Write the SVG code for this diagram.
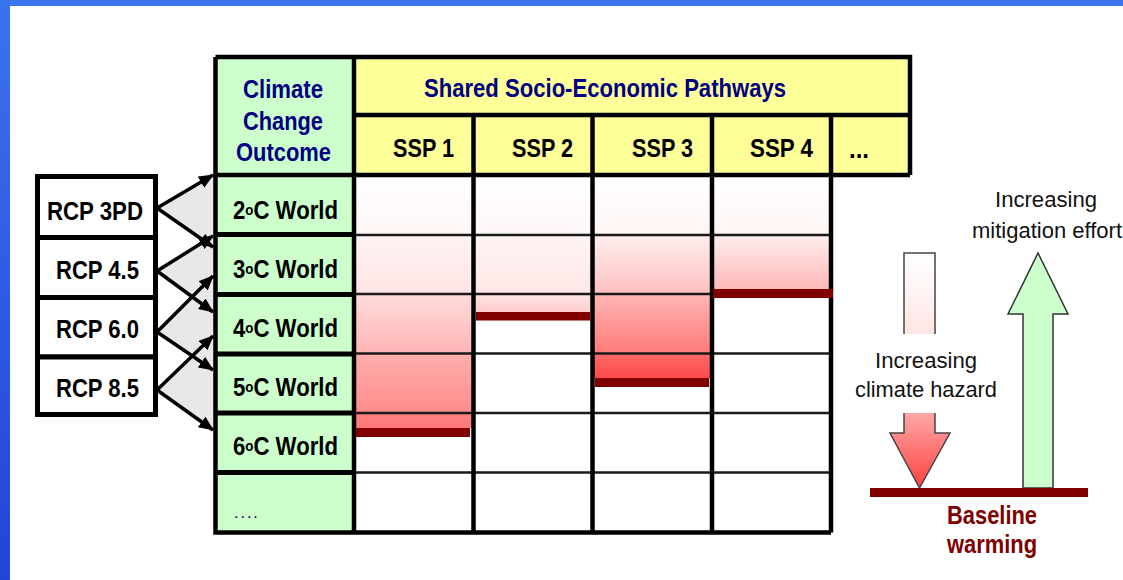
<svg xmlns="http://www.w3.org/2000/svg" width="1123" height="580" viewBox="0 0 1123 580">
<style>
.b{font-family:"Liberation Sans",Arial,sans-serif;font-weight:bold;font-size:25px;fill:#000}
.nv{fill:#000080}
.r{font-family:"Liberation Sans",Arial,sans-serif;font-size:22px;fill:#111}
.mr{fill:#800000}
.thick{stroke:#000;stroke-width:4.5;fill:none}
.thin{stroke:#1a1a1a;stroke-width:2.5;fill:none}
.box{fill:#fff;stroke:#000;stroke-width:5}
.fan{fill:#e8e8e8;stroke:#d4d4d4;stroke-width:0.6}
.arr{stroke:#000;stroke-width:3.5;fill:none;marker-end:url(#ah)}
.bar{fill:#800000}
</style>
<defs>
<marker id="ah" markerUnits="userSpaceOnUse" markerWidth="15" markerHeight="13" refX="14" refY="6.5" orient="auto">
<path d="M0,0 L15,6.5 L0,13 Z" fill="#000"/>
</marker>
<linearGradient id="blue" x1="0" y1="0" x2="0" y2="1">
<stop offset="0" stop-color="#3b72ee"/>
<stop offset="1" stop-color="#2145d6"/>
</linearGradient>
<linearGradient id="g1" gradientUnits="userSpaceOnUse" x1="0" y1="175" x2="0" y2="533">
<stop offset="0" stop-color="#ffffff"/>
<stop offset="0.1676" stop-color="#fff5f5"/>
<stop offset="0.1677" stop-color="#fff3f3"/>
<stop offset="0.3324" stop-color="#ffe4e4"/>
<stop offset="0.3325" stop-color="#ffdcdc"/>
<stop offset="0.4972" stop-color="#ffb4b4"/>
<stop offset="0.4973" stop-color="#ffaeae"/>
<stop offset="0.6648" stop-color="#ff8c8c"/>
<stop offset="0.6649" stop-color="#ff8080"/>
<stop offset="0.7067" stop-color="#ff7878"/>
</linearGradient>
<linearGradient id="g2" gradientUnits="userSpaceOnUse" x1="0" y1="175" x2="0" y2="533">
<stop offset="0" stop-color="#ffffff"/>
<stop offset="0.1676" stop-color="#fff6f6"/>
<stop offset="0.1677" stop-color="#fff4f4"/>
<stop offset="0.3324" stop-color="#ffe6e6"/>
<stop offset="0.3325" stop-color="#ffe4e4"/>
<stop offset="0.3827" stop-color="#ffcccc"/>
</linearGradient>
<linearGradient id="g3" gradientUnits="userSpaceOnUse" x1="0" y1="175" x2="0" y2="533">
<stop offset="0" stop-color="#ffffff"/>
<stop offset="0.1676" stop-color="#fff4f4"/>
<stop offset="0.1677" stop-color="#ffeeee"/>
<stop offset="0.3324" stop-color="#ffc0c0"/>
<stop offset="0.3325" stop-color="#ffb6b6"/>
<stop offset="0.4972" stop-color="#ff7a7a"/>
<stop offset="0.4973" stop-color="#ff6a6a"/>
<stop offset="0.567" stop-color="#ff4a4a"/>
</linearGradient>
<linearGradient id="g4" gradientUnits="userSpaceOnUse" x1="0" y1="175" x2="0" y2="533">
<stop offset="0" stop-color="#ffffff"/>
<stop offset="0.1676" stop-color="#fff4f4"/>
<stop offset="0.1677" stop-color="#ffeeee"/>
<stop offset="0.3184" stop-color="#ffb8b8"/>
</linearGradient>
<linearGradient id="hz" gradientUnits="userSpaceOnUse" x1="0" y1="253" x2="0" y2="488">
<stop offset="0" stop-color="#ffffff"/>
<stop offset="0.34" stop-color="#ffe6e6"/>
<stop offset="0.68" stop-color="#ffa8a8"/>
<stop offset="1" stop-color="#ff4040"/>
</linearGradient>
</defs>

<rect x="0" y="0" width="1123" height="580" fill="#fff"/>
<g id="frame">
<rect x="0" y="0" width="10" height="580" fill="url(#blue)"/>
<rect x="0" y="0" width="1123" height="6" fill="#3a74ee"/>
</g>

<g id="connectors">
<polygon class="fan" points="157,208 214,175 214,247"/>
<polygon class="fan" points="157,271 214,236 214,312"/>
<polygon class="fan" points="157,332 214,276 214,370"/>
<polygon class="fan" points="157,390 214,336 214,430"/>
<line class="arr" x1="157" y1="208" x2="213" y2="175"/>
<line class="arr" x1="157" y1="208" x2="213" y2="247"/>
<line class="arr" x1="157" y1="271" x2="213" y2="236"/>
<line class="arr" x1="157" y1="271" x2="213" y2="312"/>
<line class="arr" x1="157" y1="332" x2="213" y2="276"/>
<line class="arr" x1="157" y1="332" x2="213" y2="370"/>
<line class="arr" x1="157" y1="390" x2="213" y2="336"/>
<line class="arr" x1="157" y1="390" x2="213" y2="430"/>
</g>

<g id="rcp-3pd"><rect class="box" x="37.5" y="176.5" width="118" height="61"/><text class="b" x="47" y="220" textLength="96" lengthAdjust="spacingAndGlyphs">RCP 3PD</text></g>
<g id="rcp-4-5"><rect class="box" x="37.5" y="237.5" width="118" height="60"/><text class="b" x="56" y="279" textLength="83" lengthAdjust="spacingAndGlyphs">RCP 4.5</text></g>
<g id="rcp-6-0"><rect class="box" x="37.5" y="297.5" width="118" height="59.5"/><text class="b" x="56" y="338" textLength="83" lengthAdjust="spacingAndGlyphs">RCP 6.0</text></g>
<g id="rcp-8-5"><rect class="box" x="37.5" y="357" width="118" height="57.5"/><text class="b" x="56" y="397" textLength="83" lengthAdjust="spacingAndGlyphs">RCP 8.5</text></g>

<g id="table">
<rect x="215" y="57" width="139" height="476" fill="#ccffcc"/>
<rect x="354" y="57" width="556" height="118" fill="#ffff99"/>
<rect x="354" y="175" width="477" height="358" fill="#fff"/>
<g id="cells">
<rect x="354" y="175" width="119.5" height="253" fill="url(#g1)"/>
<rect x="473.5" y="175" width="119" height="137" fill="url(#g2)"/>
<rect x="592.5" y="175" width="119.5" height="203" fill="url(#g3)"/>
<rect x="712" y="175" width="119" height="114" fill="url(#g4)"/>
</g>
<g id="grid">
<path class="thin" d="M354,235 H831 M354,294 H831 M354,353.5 H831 M354,413 H831 M354,472.5 H831"/>
<path class="thick" d="M215.5,57 H910 V175 M215.5,57 V532.5 H831 M354,57 V532.5 M354,115 H910 M215.5,175 H910 M473.5,115 V532.5 M592.5,115 V532.5 M712,115 V532.5 M831,115 V532.5"/>
<path d="M215.5,234.5 H354 M215.5,294.5 H354 M215.5,354 H354 M215.5,413 H354 M215.5,472.5 H354" stroke="#000" stroke-width="5" fill="none"/>
</g>
<g id="bars">
<rect class="bar" x="356" y="428" width="114" height="9"/>
<rect class="bar" x="476" y="312" width="114" height="8.5"/>
<rect class="bar" x="595" y="378" width="114" height="9"/>
<rect class="bar" x="713" y="289" width="120" height="9"/>
</g>
</g>

<g id="header-cco">
<text class="b nv" x="243" y="98" textLength="80" lengthAdjust="spacingAndGlyphs">Climate</text>
<text class="b nv" x="243" y="130" textLength="80" lengthAdjust="spacingAndGlyphs">Change</text>
<text class="b nv" x="236" y="161" textLength="95" lengthAdjust="spacingAndGlyphs">Outcome</text>
</g>
<g id="header-ssp">
<text class="b nv" x="424" y="97" textLength="362" lengthAdjust="spacingAndGlyphs">Shared Socio-Economic Pathways</text>
</g>
<g id="ssp1"><text class="b" x="393" y="157" textLength="61" lengthAdjust="spacingAndGlyphs">SSP 1</text></g>
<g id="ssp2"><text class="b" x="512" y="157" textLength="61" lengthAdjust="spacingAndGlyphs">SSP 2</text></g>
<g id="ssp3"><text class="b" x="632" y="157" textLength="61" lengthAdjust="spacingAndGlyphs">SSP 3</text></g>
<g id="ssp4"><text class="b" x="750" y="157" textLength="63" lengthAdjust="spacingAndGlyphs">SSP 4</text></g>
<g id="ssp-more"><text class="b" x="849" y="158" textLength="20" lengthAdjust="spacingAndGlyphs">...</text></g>

<g id="world2"><text class="b" x="233" y="219" textLength="105" lengthAdjust="spacingAndGlyphs">2<tspan font-size="15" dy="-4">o</tspan><tspan dy="4">C World</tspan></text></g>
<g id="world3"><text class="b" x="233" y="278" textLength="105" lengthAdjust="spacingAndGlyphs">3<tspan font-size="15" dy="-4">o</tspan><tspan dy="4">C World</tspan></text></g>
<g id="world4"><text class="b" x="233" y="337" textLength="105" lengthAdjust="spacingAndGlyphs">4<tspan font-size="15" dy="-4">o</tspan><tspan dy="4">C World</tspan></text></g>
<g id="world5"><text class="b" x="233" y="396" textLength="105" lengthAdjust="spacingAndGlyphs">5<tspan font-size="15" dy="-4">o</tspan><tspan dy="4">C World</tspan></text></g>
<g id="world6"><text class="b" x="233" y="455" textLength="105" lengthAdjust="spacingAndGlyphs">6<tspan font-size="15" dy="-4">o</tspan><tspan dy="4">C World</tspan></text></g>
<g id="world-more"><text x="234" y="518" font-family="Liberation Sans, Arial, sans-serif" font-size="16" fill="#000050" letter-spacing="2">....</text></g>

<g id="hazard-arrow">
<path d="M904,253 H935 V433 H950 L919.5,488 L890,433 H904 Z" fill="url(#hz)" stroke="#444" stroke-width="1.5"/>
<rect x="880" y="334" width="80" height="79" fill="#fff"/>
<text class="r" x="875" y="368" textLength="102" lengthAdjust="spacingAndGlyphs">Increasing</text>
<text class="r" x="855" y="397" textLength="142" lengthAdjust="spacingAndGlyphs">climate hazard</text>
</g>
<g id="mitigation-arrow">
<path d="M1023,488 V314 H1008 L1038,253 L1068,314 H1053 V488 Z" fill="#ccffcc" stroke="#333" stroke-width="1.5"/>
<text class="r" x="995" y="207" textLength="102" lengthAdjust="spacingAndGlyphs">Increasing</text>
<text class="r" x="972" y="238" textLength="150" lengthAdjust="spacingAndGlyphs">mitigation effort</text>
</g>
<g id="baseline">
<rect x="870" y="488" width="218" height="9" fill="#800000"/>
<text class="b mr" x="947" y="524" font-size="23" textLength="90" lengthAdjust="spacingAndGlyphs">Baseline</text>
<text class="b mr" x="947" y="553" font-size="23" textLength="90" lengthAdjust="spacingAndGlyphs">warming</text>
</g>
</svg>
